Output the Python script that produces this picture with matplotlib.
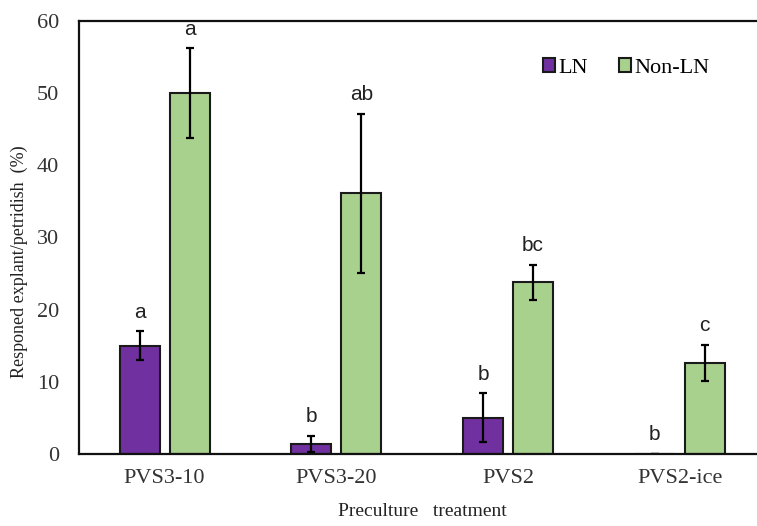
import matplotlib
matplotlib.use("Agg")
import matplotlib.pyplot as plt
import numpy as np

# Preculture treatments and response rates (%)
treatments = ["PVS3-10", "PVS3-20", "PVS2", "PVS2-ice"]
ln_mean = [15.0, 1.4, 5.0, 0.0]
ln_err = [2.0, 1.1, 3.4, 0.0]
nonln_mean = [50.0, 36.1, 23.8, 12.6]
nonln_err = [6.2, 11.0, 2.4, 2.5]
ln_letters = ["a", "b", "b", "b"]
nonln_letters = ["a", "ab", "bc", "c"]

serif = "Liberation Serif"

fig = plt.figure(figsize=(7.57, 5.26), dpi=100)
ax = fig.add_axes([0.104, 0.137, 0.896, 0.823])

x = np.arange(len(treatments))
w = 0.233
off = 0.146
ekw = dict(ecolor="black", elinewidth=1.6, capsize=3, capthick=1.6)

ax.bar(x - off, ln_mean, w, yerr=ln_err, color="#7030A0", edgecolor="#1a1a1a",
       linewidth=1.5, label="LN", error_kw=ekw, zorder=2)
ax.bar(x + off, nonln_mean, w, yerr=nonln_err, color="#A9D18E", edgecolor="#1a1a1a",
       linewidth=1.5, label="Non-LN", error_kw=ekw, zorder=2)

# significance letters above error bars
for i in range(len(treatments)):
    ax.text(x[i] - off, ln_mean[i] + ln_err[i] + 1.9, ln_letters[i], ha="center",
            va="baseline", fontsize=15, family="Liberation Sans", color="#222222")
    ax.text(x[i] + off, nonln_mean[i] + nonln_err[i] + 1.9, nonln_letters[i], ha="center",
            va="baseline", fontsize=15, family="Liberation Sans", color="#222222")

ax.set_xlim(-0.5, 3.45)
ax.set_ylim(0, 60)
ax.set_yticks(range(0, 61, 10))
ax.set_xticks(x)
ax.set_xticklabels(treatments, family=serif, fontsize=16)
for lab in ax.get_yticklabels():
    lab.set_family(serif)
    lab.set_fontsize(16)
ax.tick_params(axis="y", length=0, pad=14, colors="#333333")
ax.tick_params(axis="x", length=0, pad=11, colors="#333333")

ax.spines["right"].set_visible(False)
for s in ["left", "top", "bottom"]:
    ax.spines[s].set_linewidth(1.6)
    ax.spines[s].set_color("#111111")

ax.set_ylabel("Responed explant/petridish  (%)", family=serif, fontsize=13, color="#222222")
ax.set_xlabel("Preculture   treatment", family=serif, fontsize=14, color="#222222")
ax.yaxis.set_label_coords(-0.075, 0.443)
ax.xaxis.set_label_coords(0.507, -0.113)

ax.legend(loc="upper right", bbox_to_anchor=(0.96, 0.96), ncol=2, frameon=False,
          prop={"family": serif, "size": 16}, handlelength=0.55,
          handleheight=0.55, handletextpad=0.15, columnspacing=1.4)

fig.savefig("out.png", dpi=100)
